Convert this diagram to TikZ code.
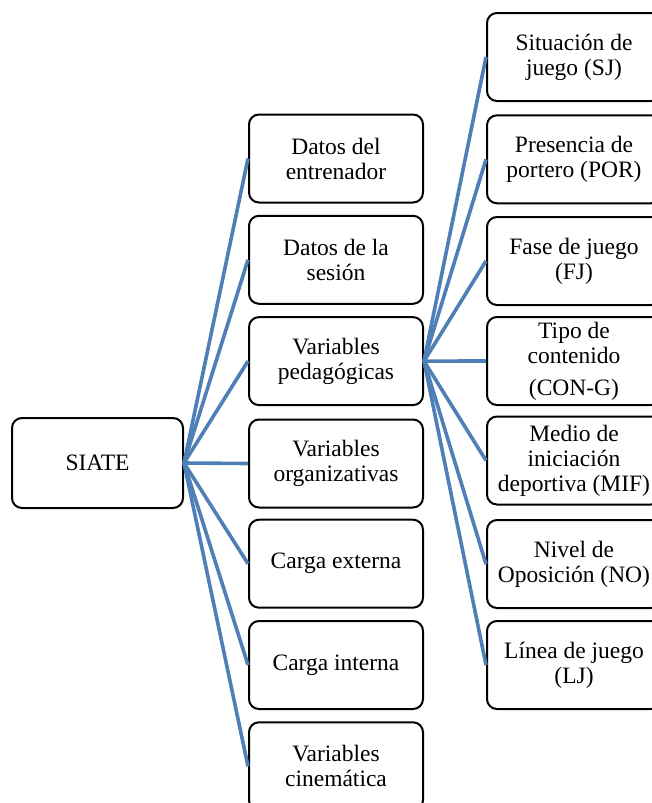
\documentclass[tikz,border=0pt]{standalone}
\usepackage{fontspec}
\setmainfont{Liberation Serif}
\definecolor{siateLink}{RGB}{79,127,182}
\tikzset{
  siateBox/.style={draw=black, line width=2pt, rounded corners=10pt, fill=white,
    minimum width=174pt, minimum height=88pt, align=center, inner sep=2pt,
    font=\fontsize{23.5}{25}\selectfont},
  siateLine/.style={line width=3.6pt, draw=siateLink}
}
\begin{document}
\begin{tikzpicture}[x=1pt, y=-1pt]
  \useasboundingbox (0,0) rectangle (652,803);
  \clip (0,0) rectangle (652,803);
  % root
  \node[siateBox, minimum width=171pt, minimum height=90pt] (siate) at (97.5,463) {SIATE};
  % middle column
  \node[siateBox] (entrenador)    at (336,158.5) {Datos del\\entrenador};
  \node[siateBox] (sesion)        at (336,259.8) {Datos de la\\sesión};
  \node[siateBox] (pedagogicas)   at (336,361.1) {Variables\\pedagógicas};
  \node[siateBox] (organizativas) at (336,463.5) {Variables\\organizativas};
  \node[siateBox] (cargaext)      at (336,563.7) {Carga externa};
  \node[siateBox] (cargaint)      at (336,665)   {Carga interna};
  \node[siateBox] (cinematica)    at (336,766.3) {Variables\\cinemática};
  % right column
  \node[siateBox] (sj)   at (574,57)    {Situación de\\juego (SJ)};
  \node[siateBox] (por)  at (574,159.3) {Presencia de\\portero (POR)};
  \node[siateBox] (fj)   at (574,261)   {Fase de juego\\(FJ)};
  \node[siateBox] (cong) at (574,361)   {Tipo de\\contenido\\[7pt](CON-G)};
  \node[siateBox] (mif)  at (574,460.5) {Medio de\\iniciación\\deportiva (MIF)};
  \node[siateBox] (no)   at (574,564)   {Nivel de\\Oposición (NO)};
  \node[siateBox] (lj)   at (574,665)   {Línea de juego\\(LJ)};
  % connectors
  \draw[siateLine] (siate.east) -- (entrenador.west);
  \draw[siateLine] (siate.east) -- (sesion.west);
  \draw[siateLine] (siate.east) -- (pedagogicas.west);
  \draw[siateLine] (siate.east) -- (organizativas.west);
  \draw[siateLine] (siate.east) -- (cargaext.west);
  \draw[siateLine] (siate.east) -- (cargaint.west);
  \draw[siateLine] (siate.east) -- (cinematica.west);
  \draw[siateLine] (pedagogicas.east) -- (sj.west);
  \draw[siateLine] (pedagogicas.east) -- (por.west);
  \draw[siateLine] (pedagogicas.east) -- (fj.west);
  \draw[siateLine] (pedagogicas.east) -- (cong.west);
  \draw[siateLine] (pedagogicas.east) -- (mif.west);
  \draw[siateLine] (pedagogicas.east) -- (no.west);
  \draw[siateLine] (pedagogicas.east) -- (lj.west);
\end{tikzpicture}
\end{document}
